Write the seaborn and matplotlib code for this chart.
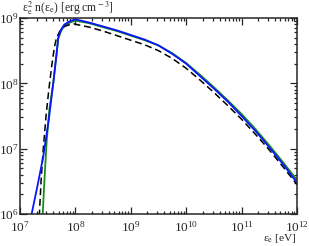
import numpy as np
import pandas as pd
import matplotlib
matplotlib.use("Agg")
import matplotlib.pyplot as plt
import matplotlib.ticker as mticker
import seaborn as sns

# -----------------------------
# Data (log10 of energy [eV] and log10 of eps^2 n(eps) [erg cm^-3])
# -----------------------------
blue_logx = [7.14, 7.21, 7.32, 7.42, 7.52, 7.60, 7.66, 7.69, 7.74, 7.80, 7.90,
             8.00, 8.25, 8.50, 8.75, 9.00, 9.25, 9.50, 9.75, 10.00, 10.25,
             10.50, 10.75, 11.00, 11.25, 11.50, 11.75, 12.00]
blue_logy = [5.80, 6.00, 6.45, 6.88, 7.45, 8.00, 8.45, 8.70, 8.82, 8.90, 8.95,
             8.98, 8.93, 8.87, 8.81, 8.74, 8.67, 8.58, 8.45, 8.30, 8.11,
             7.92, 7.72, 7.50, 7.27, 7.02, 6.76, 6.48]

green_logx = [7.39, 7.41, 7.44, 7.48, 7.53, 7.60, 7.66, 7.69, 7.74, 7.80, 7.90,
              8.00, 8.25, 8.50, 8.75, 9.00, 9.25, 9.50, 9.75, 10.00, 10.25,
              10.50, 10.75, 11.00, 11.25, 11.50, 11.75, 12.00]
green_logy = [5.80, 6.00, 6.50, 7.10, 7.60, 8.00, 8.45, 8.68, 8.80, 8.88, 8.93,
              8.96, 8.92, 8.86, 8.80, 8.73, 8.66, 8.58, 8.46, 8.31, 8.13,
              7.94, 7.74, 7.53, 7.30, 7.05, 6.79, 6.52]

black_logx = [7.32, 7.35, 7.38, 7.42, 7.47, 7.52, 7.57, 7.62, 7.66, 7.72, 7.80,
              7.90, 7.97, 8.25, 8.50, 8.75, 9.00, 9.25, 9.50, 9.75, 10.00,
              10.25, 10.50, 10.75, 11.00, 11.25, 11.50, 11.75, 12.00]
black_logy = [5.80, 6.00, 6.50, 7.00, 7.50, 7.90, 8.25, 8.55, 8.70, 8.80, 8.87,
              8.90, 8.91, 8.86, 8.80, 8.73, 8.66, 8.59, 8.50, 8.38, 8.23,
              8.05, 7.86, 7.66, 7.45, 7.22, 6.98, 6.72, 6.45]

x_ticks = [1e7, 1e8, 1e9, 1e10, 1e11, 1e12]
y_ticks = [1e6, 1e7, 1e8, 1e9]

# -----------------------------
# Style
# -----------------------------
sns.set_style("ticks")
plt.rcParams["font.family"] = ["Liberation Serif", "DejaVu Serif"]
plt.rcParams["mathtext.fontset"] = "stix"
plt.rcParams["xtick.direction"] = "in"
plt.rcParams["ytick.direction"] = "in"

fig = plt.figure(figsize=(3.09, 2.46), dpi=100)
ax = fig.add_axes([20 / 309, 32 / 246, 277 / 309, 196 / 246])


def to_frame(logx, logy):
    return pd.DataFrame({
        "energy": np.power(10.0, logx),
        "value": np.power(10.0, logy),
    })


sns.lineplot(data=to_frame(green_logx, green_logy), x="energy", y="value",
             color="#1a8c1a", linewidth=1.3, estimator=None, sort=False, ax=ax)
sns.lineplot(data=to_frame(black_logx, black_logy), x="energy", y="value",
             color="black", linewidth=1.1, linestyle=(0, (4.5, 2.5)),
             estimator=None, sort=False, ax=ax)
sns.lineplot(data=to_frame(blue_logx, blue_logy), x="energy", y="value",
             color="#0a14ff", linewidth=1.3, estimator=None, sort=False, ax=ax)

ax.set_xscale("log")
ax.set_yscale("log")
ax.set_xlim(1e7, 1e12)
ax.set_ylim(1e6, 1e9)
ax.set_xticks(x_ticks)
ax.set_yticks(y_ticks)
ax.xaxis.set_minor_locator(mticker.LogLocator(base=10, subs=np.arange(2, 10), numticks=20))
ax.yaxis.set_minor_locator(mticker.LogLocator(base=10, subs=np.arange(2, 10), numticks=20))
ax.xaxis.set_minor_formatter(mticker.NullFormatter())
ax.yaxis.set_minor_formatter(mticker.NullFormatter())

ax.tick_params(which="both", top=True, right=True, width=0.9)
ax.tick_params(axis="x", labelsize=9.5, pad=4)
ax.tick_params(axis="y", labelsize=9.5, pad=1)
ax.tick_params(which="major", length=5)
ax.tick_params(which="minor", length=2.5)
for spine in ax.spines.values():
    spine.set_linewidth(1.1)
    spine.set_visible(True)

ax.set_xlabel("")
ax.set_ylabel("")

fig.text(22 / 309, 1 - 8 / 246,
         r"ε$_{\rm e}^{2}$ n(ε$_{\rm e}$) [erg cm$^{\rm -3}$]",
         fontsize=8.4, ha="left", va="center")
fig.text(297 / 309, 1 / 246, r"ε$_{\rm e}$ [eV]",
         fontsize=8.2, ha="right", va="bottom")

fig.savefig("out.png", dpi=100)
plt.close(fig)
